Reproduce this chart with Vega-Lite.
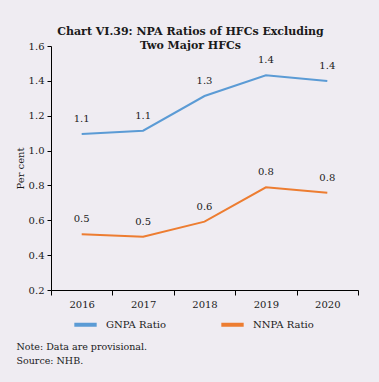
{
  "$schema": "https://vega.github.io/schema/vega-lite/v6.json",
  "autosize": {"type": "none"},
  "width": 307,
  "height": 244,
  "padding": {"left": 51, "top": 46, "right": 21, "bottom": 92},
  "background": "#efecf2",
  "title": {
    "text": ["Chart VI.39: NPA Ratios of HFCs Excluding", "Two Major HFCs"],
    "font": "DejaVu Serif",
    "fontSize": 11,
    "fontWeight": "bold",
    "color": "#1a1a1a",
    "anchor": "middle",
    "dx": -14,
    "offset": 0,
    "lineHeight": 14,
    "dy": 10
  },
  "data": {
    "values": [
      {"year": "2016", "series": "GNPA Ratio", "value": 1.095},
      {"year": "2017", "series": "GNPA Ratio", "value": 1.114},
      {"year": "2018", "series": "GNPA Ratio", "value": 1.313},
      {"year": "2019", "series": "GNPA Ratio", "value": 1.432},
      {"year": "2020", "series": "GNPA Ratio", "value": 1.399},
      {"year": "2016", "series": "NNPA Ratio", "value": 0.52},
      {"year": "2017", "series": "NNPA Ratio", "value": 0.506},
      {"year": "2018", "series": "NNPA Ratio", "value": 0.592},
      {"year": "2019", "series": "NNPA Ratio", "value": 0.789},
      {"year": "2020", "series": "NNPA Ratio", "value": 0.758}
    ]
  },
  "encoding": {
    "x": {
      "field": "year",
      "type": "ordinal",
      "bandPosition": 0.5,
      "scale": {"type": "band", "paddingInner": 0, "paddingOuter": 0},
      "axis": {
        "labelAngle": 0,
        "tickBand": "extent",
        "domainColor": "#000000",
        "tickColor": "#000000",
        "tickSize": 5,
        "labelFont": "DejaVu Serif",
        "labelFontSize": 10,
        "labelColor": "#1a1a1a",
        "labelPadding": 4,
        "title": ["Note: Data are provisional.", "Source: NHB."],
        "titleFont": "DejaVu Serif",
        "titleFontSize": 9.5,
        "titleFontWeight": "normal",
        "titleColor": "#1a1a1a",
        "titleAnchor": "start",
        "titleAlign": "left",
        "titleBaseline": "alphabetic",
        "titleLineHeight": 14,
        "titleX": -35,
        "titleY": 59
      }
    },
    "y": {
      "field": "value",
      "type": "quantitative",
      "scale": {"domain": [0.2, 1.6], "nice": false, "zero": false},
      "axis": {
        "values": [0.2, 0.4, 0.6, 0.8, 1.0, 1.2, 1.4, 1.6],
        "format": ".1f",
        "grid": false,
        "domainColor": "#000000",
        "tickColor": "#000000",
        "tickSize": 4,
        "labelFont": "DejaVu Serif",
        "labelFontSize": 10,
        "labelColor": "#1a1a1a",
        "labelPadding": 3,
        "title": "Per cent",
        "titleFont": "DejaVu Serif",
        "titleFontSize": 10,
        "titleFontWeight": "normal",
        "titleColor": "#1a1a1a",
        "titlePadding": 3
      }
    },
    "color": {
      "field": "series",
      "type": "nominal",
      "scale": {"domain": ["GNPA Ratio", "NNPA Ratio"], "range": ["#5b9bd5", "#ed7d31"]},
      "legend": {
        "title": null,
        "orient": "none",
        "direction": "horizontal",
        "legendX": 21,
        "legendY": 265,
        "symbolType": "stroke",
        "symbolSize": 500,
        "symbolStrokeWidth": 4,
        "labelFont": "DejaVu Serif",
        "labelFontSize": 10,
        "labelColor": "#1a1a1a",
        "columnPadding": 47,
        "labelOffset": 7
      }
    }
  },
  "layer": [
    {"mark": {"type": "line", "strokeWidth": 2}},
    {
      "mark": {"type": "text", "font": "DejaVu Serif", "fontSize": 10, "color": "#1a1a1a", "baseline": "alphabetic", "dy": -12},
      "encoding": {
        "text": {"field": "value", "type": "quantitative", "format": ".1f"},
        "color": {"value": "#1a1a1a"}
      }
    }
  ],
  "config": {"view": {"stroke": null}}
}
